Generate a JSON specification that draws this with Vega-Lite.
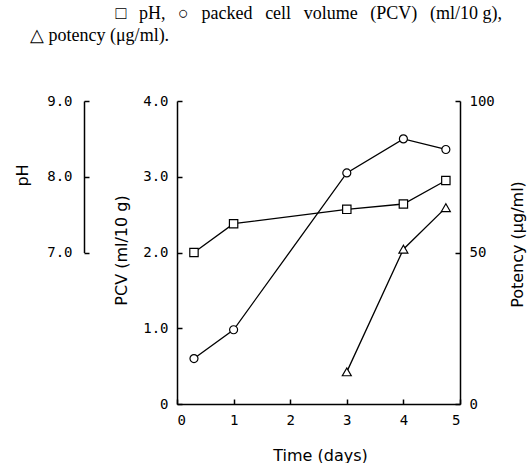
{
  "$schema": "https://vega.github.io/schema/vega-lite/v6.json",
  "width": 283,
  "height": 303,
  "autosize": {"type": "none"},
  "padding": {"left": 177, "top": 101, "right": 67, "bottom": 59},
  "background": "white",
  "title": {
    "text": ["\u200b\u00a0\u00a0\u00a0\u00a0\u00a0\u00a0\u00a0\u00a0\u00a0\u00a0\u00a0\u00a0\u00a0\u00a0\u00a0\u00a0\u00a0\u00a0\u00a0□\u00a0\u2009 pH,\u00a0\u2009 ○\u00a0\u2009 packed\u00a0\u2009 cell\u00a0\u2009 volume\u00a0\u2009 (PCV)\u00a0\u2009 (ml/10\u00a0g),", "△ potency (μg/ml)."],
    "anchor": "start",
    "frame": "group",
    "font": "Liberation Serif",
    "fontSize": 18,
    "fontWeight": "normal",
    "color": "black",
    "lineHeight": 22,
    "dx": -147,
    "offset": 49
  },
  "config": {
    "view": {"stroke": null},
    "axis": {
      "grid": false,
      "domainColor": "black",
      "tickColor": "black",
      "domainWidth": 1.5,
      "tickWidth": 1.5,
      "tickSize": -5,
      "labelFont": "DejaVu Sans Mono",
      "labelFontSize": 14,
      "labelColor": "black",
      "titleFont": "DejaVu Sans",
      "titleFontSize": 16,
      "titleFontWeight": "normal",
      "titleColor": "black"
    }
  },
  "data": {
    "values": [
      {"t": 0.3, "pH": 7.0, "pcv": 0.6, "potency": null},
      {"t": 1.0, "pH": 7.38, "pcv": 0.98, "potency": null},
      {"t": 3.0, "pH": 7.57, "pcv": 3.05, "potency": 10.6},
      {"t": 4.0, "pH": 7.64, "pcv": 3.5, "potency": 51.1},
      {"t": 4.75, "pH": 7.95, "pcv": 3.36, "potency": 64.8}
    ]
  },
  "encoding": {
    "x": {
      "field": "t",
      "type": "quantitative",
      "scale": {"domain": [0, 5], "nice": false},
      "axis": {
        "values": [0, 1, 2, 3, 4, 5],
        "title": "Time (days)",
        "labelPadding": 14,
        "titleX": 143,
        "titleY": 51,
        "titleBaseline": "middle",
        "titleAlign": "center"
      }
    }
  },
  "layer": [
    {
      "mark": {"type": "line", "color": "black", "strokeWidth": 1.3,
        "point": {"shape": "circle", "filled": true, "fill": "white", "stroke": "black", "strokeWidth": 1.2, "size": 64}},
      "encoding": {
        "y": {
          "field": "pcv",
          "type": "quantitative",
          "scale": {"domain": [0, 4], "nice": false, "zero": false},
          "axis": {
            "orient": "left",
            "values": [0, 1, 2, 3, 4],
            "labelExpr": "datum.value == 0 ? '0' : format(datum.value, '.1f')",
            "title": "PCV (ml/10 g)",
            "labelPadding": 14,
            "titleX": -56,
            "titleY": 149,
            "titleAngle": -90,
            "titleAlign": "center",
            "titleBaseline": "middle"
          }
        }
      }
    },
    {
      "mark": {"type": "line", "color": "black", "strokeWidth": 1.3,
        "point": {"shape": "square", "filled": true, "fill": "white", "stroke": "black", "strokeWidth": 1.2, "size": 70}},
      "encoding": {
        "y": {
          "field": "pH",
          "type": "quantitative",
          "scale": {"domain": [7, 9], "nice": false, "zero": false, "range": [{"expr": "height/2"}, 0]},
          "axis": {
            "orient": "left",
            "offset": 93,
            "values": [7, 8, 9],
            "format": ".1f",
            "title": "pH",
            "labelPadding": 17,
            "titleX": -62,
            "titleY": 74,
            "titleAngle": -90,
            "titleAlign": "center",
            "titleBaseline": "middle"
          }
        }
      }
    },
    {
      "mark": {"type": "line", "color": "black", "strokeWidth": 1.3,
        "point": {"shape": "triangle-up", "filled": true, "fill": "white", "stroke": "black", "strokeWidth": 1.2, "size": 80}},
      "encoding": {
        "y": {
          "field": "potency",
          "type": "quantitative",
          "scale": {"domain": [0, 100], "nice": false, "zero": false},
          "axis": {
            "orient": "right",
            "values": [0, 50, 100],
            "title": "Potency (μg/ml)",
            "labelPadding": 14,
            "titleX": 57,
            "titleY": 143,
            "titleAngle": -90,
            "titleAlign": "center",
            "titleBaseline": "middle"
          }
        }
      }
    }
  ],
  "resolve": {"scale": {"y": "independent"}, "axis": {"y": "independent"}}
}
